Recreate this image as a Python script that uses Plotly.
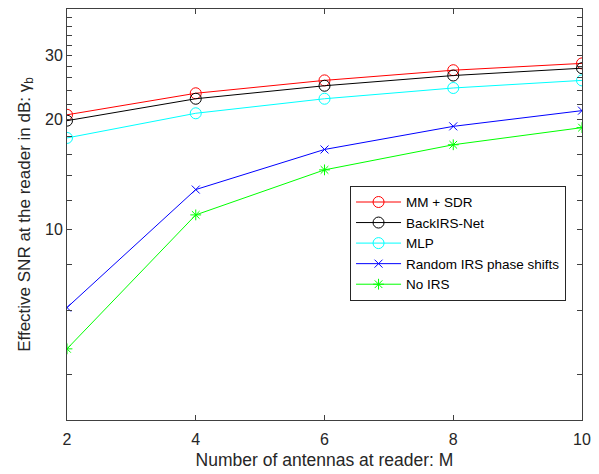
import plotly.graph_objects as go

M = [2, 4, 6, 8, 10]
mm_sdr = [20.6, 23.6, 25.6, 27.3, 28.5]
backirs = [19.85, 22.8, 24.75, 26.4, 27.65]
mlp = [17.8, 20.8, 22.8, 24.4, 25.6]
random_irs = [6.1, 12.85, 16.55, 19.15, 21.15]
no_irs = [4.7, 10.95, 14.55, 17.05, 19.0]

y_tickvals = list(range(4, 40, 2))
y_ticktext = [str(v) if v in (10, 20, 30) else "" for v in y_tickvals]
x_tickvals = [2, 4, 6, 8, 10]

series = [
    ("MM + SDR", mm_sdr, "#ff0000", "circle-open", 11),
    ("BackIRS-Net", backirs, "#000000", "circle-open", 11),
    ("MLP", mlp, "#00ffff", "circle-open", 11),
    ("Random IRS phase shifts", random_irs, "#0000ff", "x-thin-open", 8),
    ("No IRS", no_irs, "#00ff00", "asterisk-open", 9),
]

fig = go.Figure()
for name, ys, col, sym, sz in series:
    fig.add_trace(go.Scatter(
        x=M, y=ys, name=name, mode="lines+markers",
        line=dict(color=col, width=1),
        marker=dict(symbol=sym, size=sz, color=col, line=dict(color=col, width=1)),
    ))

axis_col = "#404040"
font_family = "Liberation Sans, Arial, sans-serif"
fig.update_layout(
    width=599, height=474,
    margin=dict(l=67, r=11, t=8, b=54),
    paper_bgcolor="white", plot_bgcolor="white",
    font=dict(family=font_family, color="#262626", size=16),
    showlegend=True,
    legend=dict(
        x=0.969, y=0.570, xanchor="right", yanchor="top",
        bgcolor="white", bordercolor="#262626", borderwidth=1,
        font=dict(size=13.5, color="#000000"),
        tracegroupgap=0, itemwidth=45,
    ),
    xaxis=dict(
        range=[2, 10], tickmode="array", tickvals=x_tickvals,
        ticks="inside", ticklen=5, tickcolor=axis_col,
        showline=True, linecolor=axis_col, linewidth=1, mirror="ticks",
        showgrid=False, zeroline=False, ticklabelstandoff=5,
        title=dict(text="Number of antennas at reader: M", font=dict(size=17.5), standoff=6),
        tickfont=dict(size=16),
    ),
    yaxis=dict(
        type="log", range=[0.477, 1.604],
        tickmode="array", tickvals=y_tickvals, ticktext=y_ticktext,
        ticks="inside", ticklen=5, tickcolor=axis_col,
        showline=True, linecolor=axis_col, linewidth=1, mirror="ticks",
        showgrid=False, zeroline=False,
        title=dict(text="Effective SNR at the reader in dB: \u03b3<sub>b</sub>", font=dict(size=17), standoff=10),
        tickfont=dict(size=16),
    ),
)

fig.write_html("out.html")
